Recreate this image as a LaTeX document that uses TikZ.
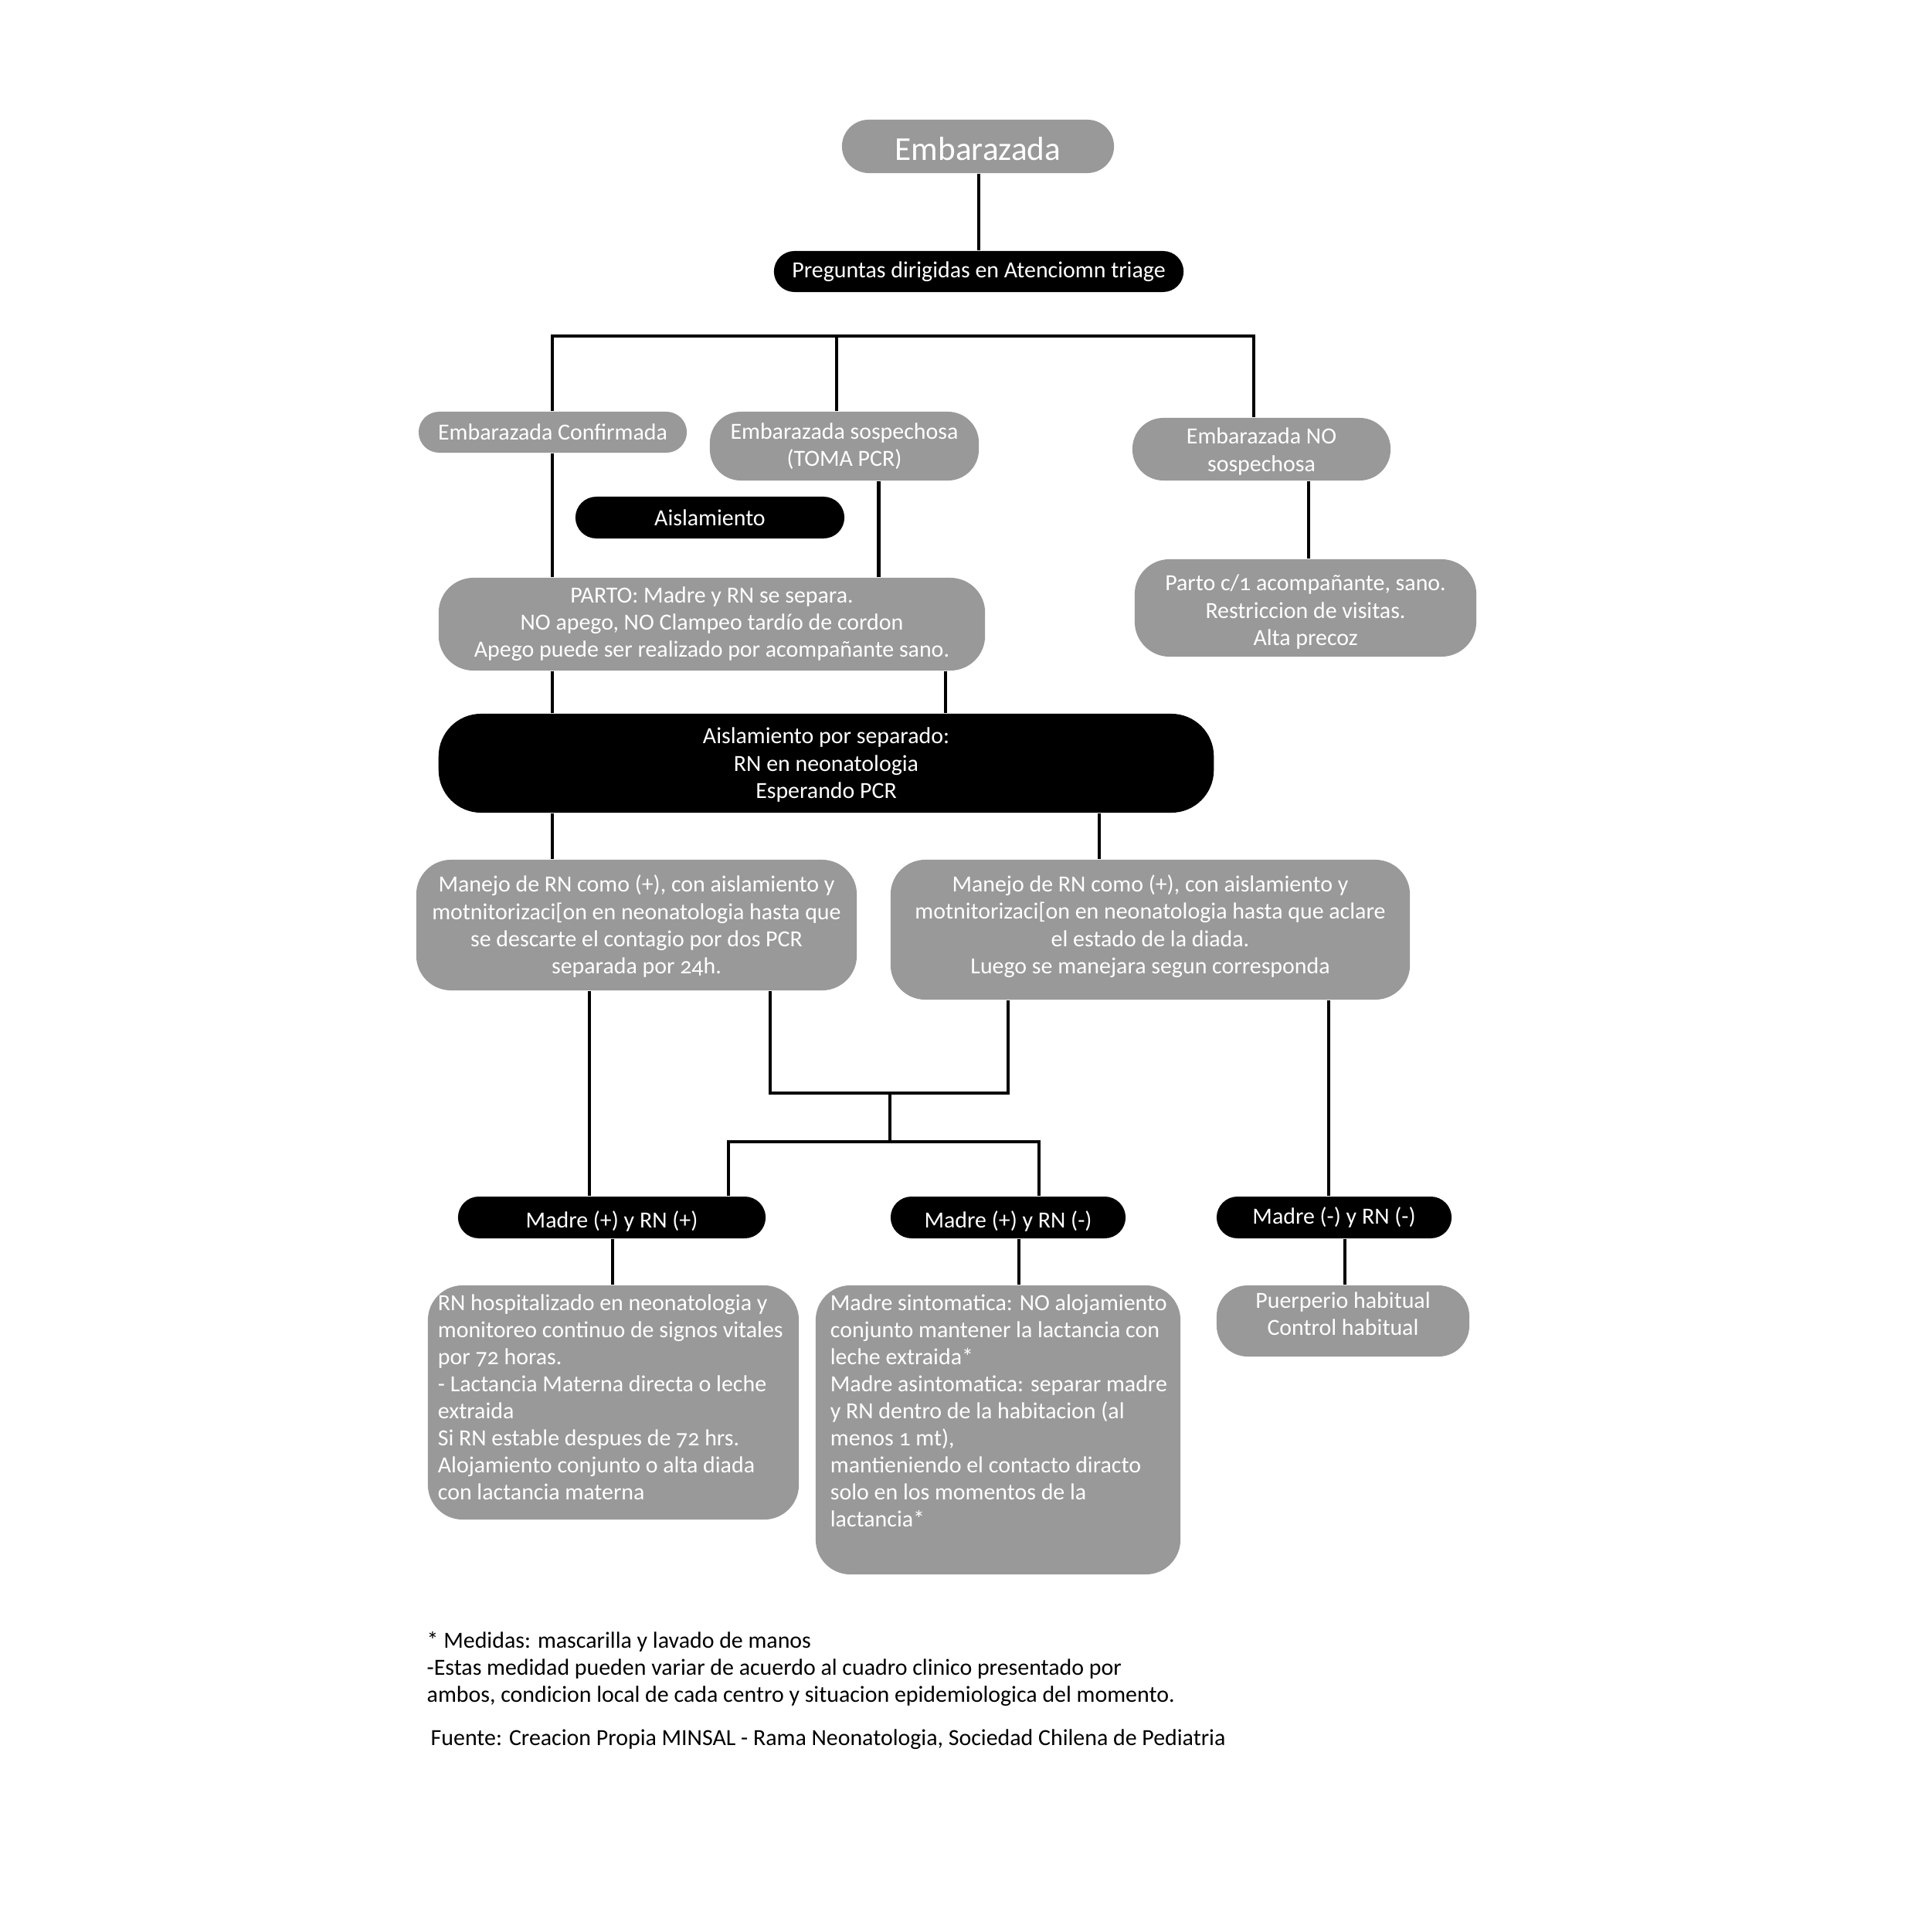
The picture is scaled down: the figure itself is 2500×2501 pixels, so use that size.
\documentclass[tikz,border=0pt]{standalone}
\usepackage{fontspec}
\setmainfont{Carlito}[Numbers=OldStyle]
\definecolor{boxgray}{RGB}{153,153,153}
% centred block of lines, moved up or down inside its box (box size kept)
\newcommand\movedlines[2]{\raisebox{#1}[\height][\depth]{\begin{tabular}{@{}c@{}}#2\end{tabular}}}
\newcommand\movedline[2]{\raisebox{#1}[\height][\depth]{#2}}
\begin{document}
\begin{tikzpicture}[x=0.01cm,y=-0.01cm,
  every node/.style={font=\fontsize{8.5}{9.96}\selectfont, inner sep=0pt, align=center},
  graybox/.style={fill=boxgray, text=white, rounded corners=0.45cm},
  blackbox/.style={fill=black, text=white, rounded corners=0.27cm},
  conn/.style={line width=1.2pt},
  plain/.style={text=black, align=left}]
\useasboundingbox (0,0) rectangle (2500,2501);

% boxes
\node[graybox, rounded corners=0.345cm, minimum width=3.52cm, minimum height=0.69cm,
      font=\fontsize{12.3}{14}\selectfont] (emb) at (1266,189.5) {\movedline{-0.03cm}{Embarazada}};
\node[blackbox, rounded corners=0.265cm, minimum width=5.30cm, minimum height=0.53cm] (preg) at (1267,351.5) {Preguntas dirigidas en Atenciomn triage};

\node[graybox, rounded corners=0.265cm, minimum width=3.47cm, minimum height=0.53cm] (conf) at (715.5,559.5) {Embarazada Confirmada};
\node[graybox, rounded corners=0.4cm, minimum width=3.48cm, minimum height=0.89cm] (sosp) at (1093,577.5) {Embarazada sospechosa\\(TOMA PCR)};
\node[graybox, rounded corners=0.4cm, minimum width=3.34cm, minimum height=0.81cm] (nosp) at (1633,581.5) {\movedlines{-0.04cm}{Embarazada NO\\sospechosa}};
\node[blackbox, minimum width=3.48cm, minimum height=0.54cm] (aisl) at (919,670) {Aislamiento};

\node[graybox, minimum width=7.07cm, minimum height=1.20cm] (parto) at (921.5,808) {PARTO: Madre y RN se separa.\\NO apego, NO Clampeo tardío de cordon\\Apego puede ser realizado por acompañante sano.};
\node[graybox, minimum width=4.42cm, minimum height=1.26cm] (partoc) at (1690,787) {\movedlines{-0.06cm}{Parto c/1 acompañante, sano.\\Restriccion de visitas.\\Alta precoz}};

\node[blackbox, rounded corners=0.55cm, minimum width=10.03cm, minimum height=1.28cm] (aps) at (1069.5,988) {\movedlines{-0.03cm}{Aislamiento por separado:\\RN en neonatologia\\Esperando PCR}};

\node[graybox, minimum width=5.70cm, minimum height=1.69cm] (manL) at (824,1197.5) {\movedlines{-0.03cm}{Manejo de RN como (+), con aislamiento y\\motnitorizaci[on en neonatologia hasta que\\se descarte el contagio por dos PCR\\separada por 24h.}};
\node[graybox, minimum width=6.72cm, minimum height=1.81cm] (manR) at (1489,1203.5) {\movedlines{0.03cm}{Manejo de RN como (+), con aislamiento y\\motnitorizaci[on en neonatologia hasta que aclare\\el estado de la diada.\\Luego se manejara segun corresponda}};

\node[blackbox, minimum width=3.98cm, minimum height=0.54cm] (mpp) at (792,1576) {\movedline{-0.05cm}{Madre (+) y RN (+)}};
\node[blackbox, minimum width=3.04cm, minimum height=0.54cm] (mpn) at (1305,1576) {\movedline{-0.05cm}{Madre (+) y RN (-)}};
\node[blackbox, minimum width=3.04cm, minimum height=0.54cm] (mnn) at (1727,1576) {Madre (-) y RN (-)};

\node[graybox, minimum width=4.80cm, minimum height=3.03cm] (rnh) at (794,1815.5)
  {\parbox[c][3.03cm][t]{4.80cm}{\raggedright\leftskip=0.13cm\vspace*{0.12cm}%
   RN hospitalizado en neonatologia y\\
   monitoreo continuo de signos vitales\\
   por 72 horas.\\
   - Lactancia Materna directa o leche\\
   extraida\\
   Si RN estable despues de 72 hrs.\\
   Alojamiento conjunto o alta diada\\
   con lactancia materna}};
\node[graybox, minimum width=4.72cm, minimum height=3.74cm] (msint) at (1292,1851)
  {\parbox[c][3.74cm][t]{4.72cm}{\raggedright\leftskip=0.19cm\vspace*{0.12cm}%
   Madre sintomatica: NO alojamiento\\
   conjunto mantener la lactancia con\\
   leche extraida*\\
   Madre asintomatica: separar madre\\
   y RN dentro de la habitacion (al\\
   menos 1 mt),\\
   mantieniendo el contacto diracto\\
   solo en los momentos de la\\
   lactancia*}};
\node[graybox, rounded corners=0.4cm, minimum width=3.27cm, minimum height=0.92cm] (puer) at (1738.5,1710) {\movedlines{0.06cm}{Puerperio habitual\\Control habitual}};

% notes
\node[plain, anchor=west] (notes) at (552,2160) {* Medidas: mascarilla y lavado de manos\\
-Estas medidad pueden variar de acuerdo al cuadro clinico presentado por\\
ambos, condicion local de cada centro y situacion epidemiologica del momento.};
\node[plain, anchor=west] (src) at (557,2252) {Fuente: Creacion Propia MINSAL - Rama Neonatologia, Sociedad Chilena de Pediatria};

% column positions of the connectors
\coordinate (busL) at (715,435);
\coordinate (busM) at (1083,435);
\coordinate (busR) at (1623,435);
\coordinate (xS) at (1137.5,0);
\coordinate (xN) at (1694,0);
\coordinate (xP) at (1224,0);
\coordinate (xR) at (1423,0);
\coordinate (xL) at (763,0);
\coordinate (xQ) at (1720,0);
\coordinate (xD1) at (793,0);
\coordinate (xD2) at (1319,0);
\coordinate (xD3) at (1741,0);
\coordinate (loopL) at (997,1415);
\coordinate (loopR) at (1305,1415);
\coordinate (midT) at (1152,1415);
\coordinate (midB) at (1152,1478);
\coordinate (barL) at (943,1478);
\coordinate (barR) at (1345,1478);

% connectors
\draw[conn] (emb.south -| preg.north) -- (preg.north);
\draw[conn] (conf.north -| busL) -- (busL) -- (busR) -- (nosp.north -| busR);
\draw[conn] (busM) -- (sosp.north -| busM);
\draw[conn] (conf.south -| busL) -- (parto.north -| busL);
\draw[conn] (sosp.south -| xS) -- (parto.north -| xS);
\draw[conn] (nosp.south -| xN) -- (partoc.north -| xN);
\draw[conn] (parto.south -| busL) -- (aps.north -| busL);
\draw[conn] (parto.south -| xP) -- (aps.north -| xP);
\draw[conn] (aps.south -| busL) -- (manL.north -| busL);
\draw[conn] (aps.south -| xR) -- (manR.north -| xR);
\draw[conn] (manL.south -| xL) -- (mpp.north -| xL);
\draw[conn] (manL.south -| loopL) -- (loopL) -- (loopR) -- (manR.south -| loopR);
\draw[conn] (midT) -- (midB);
\draw[conn] (mpp.north -| barL) -- (barL) -- (barR) -- (mpn.north -| barR);
\draw[conn] (manR.south -| xQ) -- (mnn.north -| xQ);
\draw[conn] (mpp.south -| xD1) -- (rnh.north -| xD1);
\draw[conn] (mpn.south -| xD2) -- (msint.north -| xD2);
\draw[conn] (mnn.south -| xD3) -- (puer.north -| xD3);
\end{tikzpicture}
\end{document}
